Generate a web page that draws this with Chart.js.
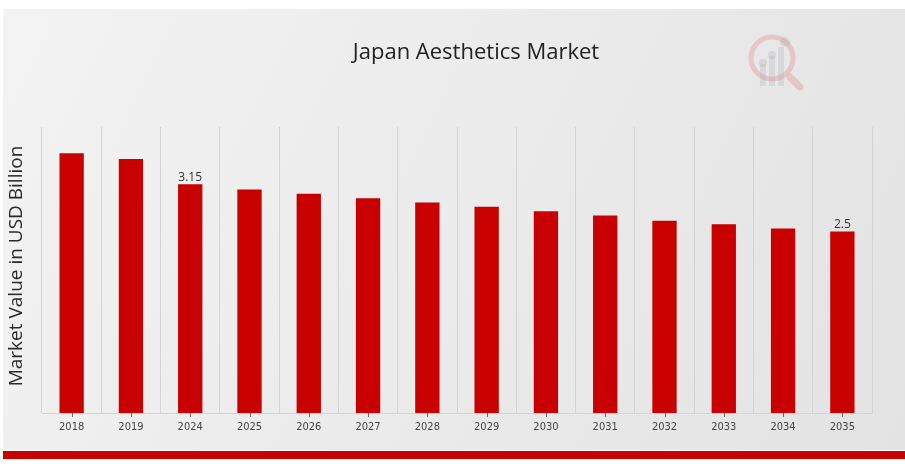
<!DOCTYPE html>
<html lang="en">
<head>
    <meta charset="UTF-8">
    <title>Japan Aesthetics Market</title>
    <style>
        html, body { margin: 0; padding: 0; background: #fff; }
        #wrap { width: 905px; height: 467px; position: relative; }
    </style>
</head>
<body>
    <div id="wrap">
        <canvas id="grafico1" width="905" height="467"></canvas>
    </div>

    <script src="https://cdn.jsdelivr.net/npm/chart.js"></script>

    <script>
        // dados
        const anos = ['2018','2019','2024','2025','2026','2027','2028','2029','2030','2031','2032','2033','2034','2035']
        const valores = [3.58, 3.50, 3.15, 3.08, 3.02, 2.96, 2.90, 2.84, 2.78, 2.72, 2.65, 2.60, 2.54, 2.5]
        const rotulos = {2: '3.15', 13: '2.5'} // so dois valores aparecem escritos

        const titulo = 'Japan Aesthetics Market'
        const tituloEixoY = 'Market Value in USD Billion'

        // fundo, titulo, logo e faixa vermelha
        const decoracao = {
          id: 'decoracao',
          beforeDraw(chart) {
            const c = chart.ctx
            c.save()
            c.fillStyle = '#ffffff'
            c.fillRect(0, 0, 905, 467)
            const g = c.createLinearGradient(0, 9, 905, 449)
            g.addColorStop(0, '#f3f3f3')
            g.addColorStop(0.5, '#ebebeb')
            g.addColorStop(1, '#e3e3e3')
            c.fillStyle = g
            c.fillRect(3, 9, 902, 441)
            c.fillStyle = '#c80000'
            c.fillRect(3, 451, 902, 8)

            // logo apagado
            c.globalAlpha = 0.25
            c.strokeStyle = '#e06060'
            c.lineWidth = 5
            c.beginPath()
            c.arc(772, 58, 21, 0, Math.PI * 2)
            c.stroke()
            c.lineWidth = 7
            c.lineCap = 'round'
            c.beginPath()
            c.moveTo(790, 77)
            c.lineTo(800, 87)
            c.stroke()
            c.fillStyle = '#a8a8b0'
            c.fillRect(760, 64, 6, 22)
            c.fillRect(769, 56, 6, 30)
            c.fillRect(778, 47, 6, 39)
            c.beginPath(); c.arc(763, 63, 4, 0, Math.PI * 2); c.fill()
            c.beginPath(); c.arc(772, 55, 4, 0, Math.PI * 2); c.fill()
            c.beginPath(); c.arc(785, 42, 5, 0, Math.PI * 2); c.fill()
            c.restore()
          },
          afterDraw(chart) {
            const c = chart.ctx
            const x = chart.scales.x
            const y = chart.scales.y
            c.save()
            c.fillStyle = '#222'
            c.font = '22px "Open Sans", "Noto Sans", sans-serif'
            c.textAlign = 'center'
            c.textBaseline = 'middle'
            c.fillText(titulo, 476, 53)

            c.save()
            c.translate(17, 266)
            c.rotate(-Math.PI / 2)
            c.fillStyle = '#2a2a2a'
            c.font = '19px "Open Sans", "Noto Sans", sans-serif'
            c.fillText(tituloEixoY, 0, 0)
            c.restore()

            // marquinhas no centro de cada categoria
            c.strokeStyle = '#666'
            c.lineWidth = 1
            anos.forEach((a, i) => {
              const px = Math.round(x.getPixelForValue(i)) + 0.5
              c.beginPath()
              c.moveTo(px, y.bottom)
              c.lineTo(px, y.bottom + 4)
              c.stroke()
            })

            // valores escritos
            c.fillStyle = '#333'
            c.font = '12px "Open Sans", "Noto Sans", sans-serif'
            c.textBaseline = 'bottom'
            Object.keys(rotulos).forEach(k => {
              const i = Number(k)
              c.fillText(rotulos[k], x.getPixelForValue(i), y.getPixelForValue(valores[i]) - 1)
            })
            c.restore()
          }
        }

        const ctx = document.getElementById('grafico1')

        let grafico1 = new Chart(ctx, {
          type: 'bar',
          data: {
            labels: anos,
            datasets: [{
              label: 'Market Value',
              data: valores,
              backgroundColor: '#c80000',
              borderWidth: 0,
              categoryPercentage: 1,
              barPercentage: 0.41
            }]
          },
          options: {
            responsive: false,
            animation: false,
            layout: { padding: { left: 42, right: 33, top: 127, bottom: 30 } },
            plugins: {
              legend: { display: false },
              tooltip: { enabled: false }
            },
            scales: {
              x: {
                afterFit(s) { s.height = 24 },
                grid: { color: '#d4d4d4', drawTicks: false, offset: true },
                border: { color: '#d4d4d4' },
                ticks: {
                  padding: 8,
                  color: '#444',
                  font: { family: '"DejaVu Sans Condensed", "Open Sans", sans-serif', size: 11 }
                }
              },
              y: {
                display: false,
                min: 0,
                max: 3.94
              }
            }
          },
          plugins: [decoracao]
        });
    </script>
</body>
</html>
